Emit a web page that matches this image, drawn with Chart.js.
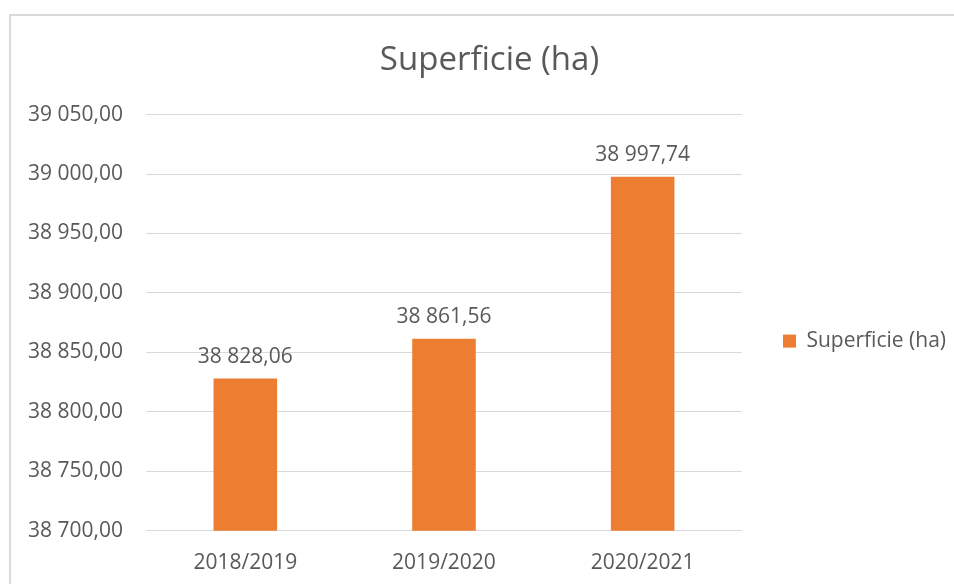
<!DOCTYPE html>
<html>
<head>
<meta charset="utf-8">
<script src="https://cdn.jsdelivr.net/npm/chart.js@4"></script>
<style>
  html, body { margin: 0; padding: 0; background: #fff; overflow: hidden; }
  #frame { position: absolute; left: 9px; top: 14px; width: 1000px; height: 1000px;
           border: 2px solid #d9d9d9; box-sizing: border-box; }
  #c { position: absolute; left: 0; top: 0; }
</style>
</head>
<body>
<div id="frame"></div>
<canvas id="c" width="954" height="584"></canvas>
<script>
var seasons = ['2018/2019', '2019/2020', '2020/2021'];
var surface = [38828.06, 38861.56, 38997.74];
var seriesName = 'Superficie (ha)';

var textColor = '#595959';
var fontName = "'Open Sans', sans-serif";

// 39050 -> "39 050,00"
var fmt = function(v) {
	var parts = Number(v).toFixed(2).split('.');
	var intPart = parts[0].replace(/\B(?=(\d{3})+(?!\d))/g, ' ');
	return intPart + ',' + parts[1];
}

var barLabels = {
	id: 'barLabels',
	afterDatasetsDraw: function(chart) {
		var ctx = chart.ctx;
		var meta = chart.getDatasetMeta(0);
		ctx.save();
		ctx.font = '21px ' + fontName;
		ctx.fillStyle = textColor;
		ctx.textAlign = 'center';
		ctx.textBaseline = 'bottom';
		for (var i = 0; i < meta.data.length; i++) {
			var bar = meta.data[i];
			ctx.fillText(fmt(chart.data.datasets[0].data[i]), bar.x, bar.y - 11);
		}
		ctx.restore();
	}
};

var ctx = document.getElementById('c').getContext('2d');
var chart = new Chart(ctx, {
	type: 'bar',
	data: {
		labels: seasons,
		datasets: [{
			label: seriesName,
			data: surface,
			backgroundColor: '#ED7D31',
			barPercentage: 0.32,
			categoryPercentage: 1
		}]
	},
	options: {
		responsive: false,
		animation: false,
		layout: { padding: { left: 23, right: -2, top: 41, bottom: -4 } },
		plugins: {
			title: {
				display: true,
				text: seriesName,
				color: textColor,
				font: { family: fontName, size: 33, weight: 'normal' },
				padding: { top: 0, bottom: 34 }
			},
			legend: {
				position: 'right',
				maxWidth: 400,
				title: { display: true, text: ' ', padding: 14, font: { size: 21 } },
				labels: {
					color: textColor,
					font: { family: fontName, size: 21 },
					boxWidth: 13,
					boxHeight: 13,
					padding: 24
				}
			},
			tooltip: { enabled: false }
		},
		scales: {
			x: {
				grid: { display: false },
				border: { color: '#d9d9d9' },
				ticks: { color: textColor, font: { family: fontName, size: 21 }, padding: 12 }
			},
			y: {
				min: 38700,
				max: 39050,
				border: { display: false },
				grid: { color: '#d9d9d9', drawTicks: false },
				ticks: {
					stepSize: 50,
					color: textColor,
					font: { family: fontName, size: 21 },
					padding: 23,
					callback: function(v) { return fmt(v); }
				},
				afterFit: function(axis) { axis.width = 123; }
			},
			// empty right axis, only keeps the gap before the legend
			gap: {
				axis: 'y',
				position: 'right',
				grid: { display: false },
				border: { display: false },
				ticks: { display: false },
				afterFit: function(axis) { axis.width = 17; }
			}
		}
	},
	plugins: [barLabels]
});
</script>
</body>
</html>
